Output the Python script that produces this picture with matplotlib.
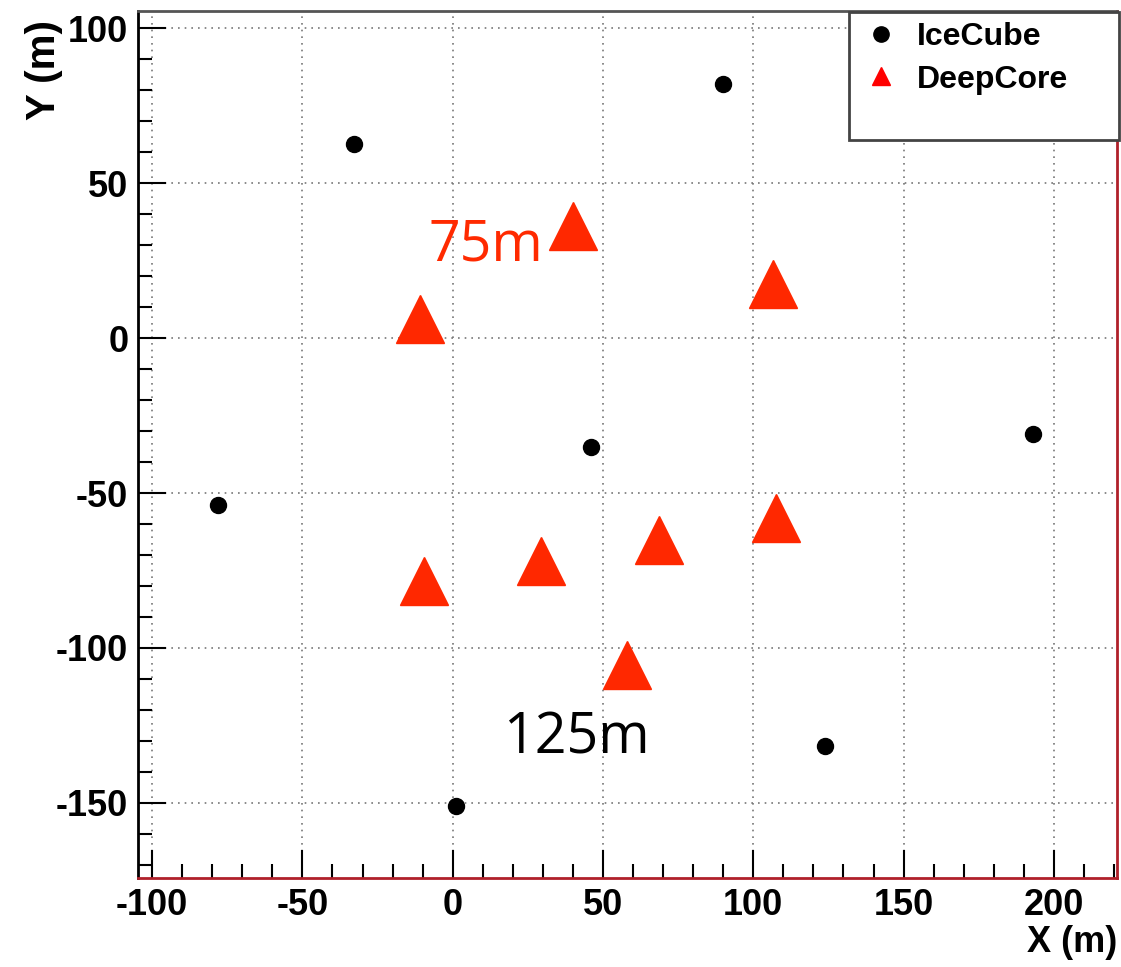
import matplotlib
matplotlib.use("Agg")
import matplotlib.pyplot as plt
from matplotlib.lines import Line2D
from matplotlib.patches import Rectangle

# string positions (m)
icecube_x = [-33, 90, -78, 46, 193, 124, 1]
icecube_y = [62.5, 82, -54, -35, -31, -131.5, -151]
deepcore_x = [40, 106.5, -11, -9.5, 29.5, 68.5, 107.5, 58]
deepcore_y = [36, 17.5, 6, -78.5, -72, -65, -58, -105.5]

xticks = [-100, -50, 0, 50, 100, 150, 200]
yticks = [-150, -100, -50, 0, 50, 100]

plt.rcParams["font.family"] = ["Liberation Sans", "DejaVu Sans"]
plt.rcParams["axes.unicode_minus"] = False

fig = plt.figure(figsize=(11.21, 9.67), dpi=100)
ax = fig.add_axes([138 / 1121, 89 / 967, 979 / 1121, 867 / 967])

ax.plot(icecube_x, icecube_y, "o", color="black", markersize=11.5, zorder=3)
ax.plot(deepcore_x, deepcore_y, "^", color="#ff2800", markersize=34, zorder=3)

ax.text(11, 25, "75m", color="#ff2a00", fontsize=40, ha="center", va="baseline",
        family=["Open Sans", "DejaVu Sans"])
ax.text(41, -134, "125m", color="black", fontsize=40, ha="center", va="baseline",
        family=["Open Sans", "DejaVu Sans"])

ax.set_xlim(-104.7, 221)
ax.set_ylim(-174.2, 105.5)
ax.set_xticks(xticks)
ax.set_yticks(yticks)
ax.set_xticks(range(-100, 221, 10), minor=True)
ax.set_yticks(range(-170, 101, 10), minor=True)
ax.grid(True, which="major", linestyle=(0, (1, 3)), color="#777777", linewidth=1.2)

ax.tick_params(which="both", direction="in", top=False, right=False,
               labelsize=26, pad=7, width=1.5)
ax.tick_params(which="major", length=20)
ax.tick_params(which="minor", length=10)
for lab in ax.get_xticklabels() + ax.get_yticklabels():
    lab.set_fontweight("bold")

ax.spines["top"].set_color("#555555")
ax.spines["left"].set_color("black")
ax.spines["right"].set_color("#b0202a")
ax.spines["bottom"].set_color("#b0202a")
for s in ax.spines.values():
    s.set_linewidth(2)

ax.set_xlabel("X (m)", fontsize=26, fontweight="bold", loc="right", labelpad=2)
ax.set_ylabel("Y (m)", fontsize=29, fontweight="bold", loc="top", labelpad=4)
ax.yaxis.set_label_coords(-0.077, 0.99)

# legend box
fig.patches.append(Rectangle((849 / 1121, 1 - 140 / 967), 270 / 1121, 128 / 967,
                             transform=fig.transFigure, facecolor="white",
                             edgecolor="#444444", linewidth=2, zorder=5))
handles = [
    Line2D([], [], marker="o", color="black", linestyle="none", markersize=11),
    Line2D([], [], marker="^", color="red", linestyle="none", markersize=13),
]
leg = fig.legend(handles, ["IceCube", "DeepCore"], loc="upper left",
                 bbox_to_anchor=(843 / 1121, 1 - 9 / 967), frameon=False,
                 prop={"size": 23, "weight": "bold"}, handletextpad=0.3,
                 labelspacing=0.4, borderaxespad=0, handlelength=1.6)
leg.set_zorder(6)

fig.savefig("out.png", dpi=100)
